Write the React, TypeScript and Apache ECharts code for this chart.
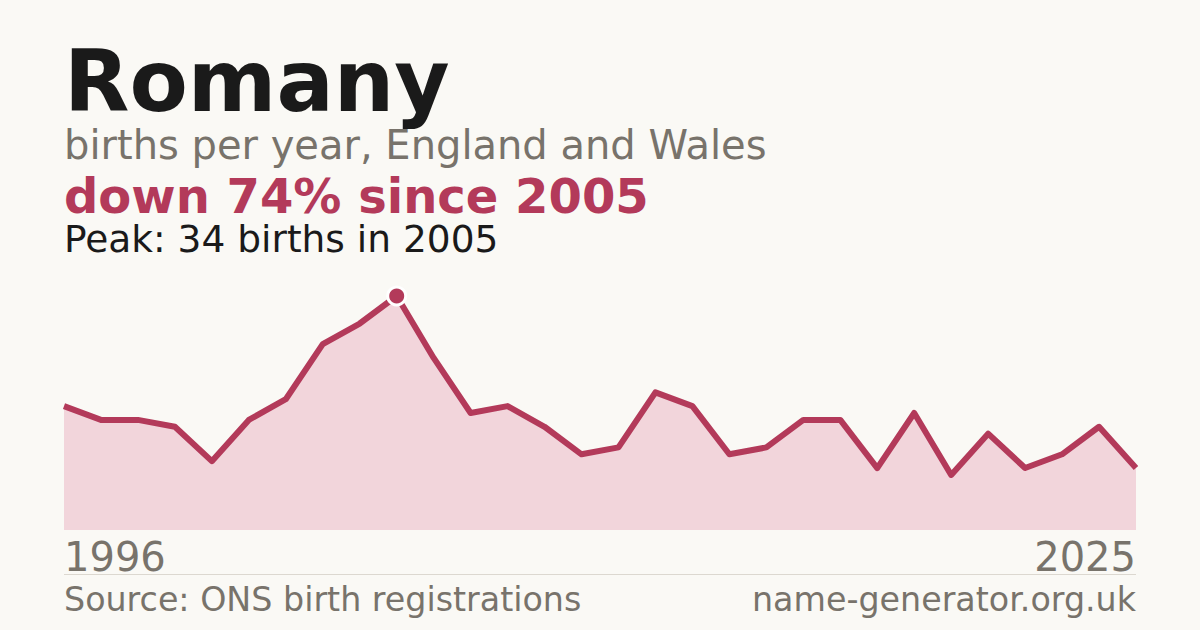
import * as echarts from "echarts";
import { useEffect, useRef } from "react";

/** 年份（类目轴）与出生数。 */
const YEARS = [
  "1996", "1997", "1998", "1999", "2000", "2001", "2002", "2003", "2004", "2005",
  "2006", "2007", "2008", "2009", "2010", "2011", "2012", "2013", "2014", "2015",
  "2016", "2017", "2018", "2019", "2020", "2021", "2022", "2023", "2024", "2025",
];
const BIRTHS = [
  18, 16, 16, 15, 10, 16, 19, 27, 30, 34,
  25, 17, 18, 15, 11, 12, 20, 18, 11, 12,
  16, 16, 9, 17, 8, 14, 9, 11, 15, 9,
];
const PEAK_YEAR = "2005";

const TITLE = "Romany";
const SUBTITLE = "births per year, England and Wales";
const HEADLINE = "down 74% since 2005";
const PEAK_TEXT = "Peak: 34 births in 2005";
const SOURCE_TEXT = "Source: ONS birth registrations";
const SITE_TEXT = "name-generator.org.uk";

const BG = "#faf9f5";
const INK = "#1a1a1a";
const MUTED = "#78736b";
const ACCENT = "#b33a5a";
const AREA = "#f2d5db";
const FONT = "DejaVu Sans";

function buildOption(): echarts.EChartsOption {
  const last = YEARS.length - 1;
  const seriesData = BIRTHS.map((v, i) =>
    YEARS[i] === PEAK_YEAR
      ? {
          value: v,
          symbol: "circle",
          symbolSize: 18,
          itemStyle: { color: ACCENT, borderColor: "#ffffff", borderWidth: 3 },
        }
      : { value: v },
  );

  // 居中对齐，行高压到字号以下，文字包围盒不至于互相压住。
  const text = (
    t: string,
    x: number,
    y: number,
    size: number,
    color: string,
    bold = false,
    align: "left" | "right" = "left",
  ) => ({
    type: "text" as const,
    x,
    y,
    silent: true,
    style: {
      text: t,
      fill: color,
      font: `${bold ? "bold " : ""}${size}px "${FONT}"`,
      lineHeight: size * 0.75,
      align,
      verticalAlign: "middle" as const,
    },
  });

  return {
    animation: false,
    backgroundColor: BG,
    grid: { left: 64, right: 64, top: 296, bottom: 100 },
    xAxis: {
      type: "category",
      data: YEARS,
      boundaryGap: false,
      axisLine: { show: false },
      axisTick: { show: false },
      splitLine: { show: false },
      axisLabel: {
        interval: (i: number) => i === 0 || i === last,
        color: MUTED,
        fontFamily: FONT,
        fontSize: 40,
        margin: 7,
        alignMinLabel: "left",
        alignMaxLabel: "right",
      },
    },
    yAxis: {
      type: "value",
      min: 0,
      max: 34,
      show: false,
    },
    series: [
      {
        type: "line",
        data: seriesData,
        symbol: "none",
        z: 3,
        lineStyle: { color: ACCENT, width: 6, join: "round" },
        areaStyle: { color: AREA, opacity: 1 },
      },
    ],
    graphic: [
      text(TITLE, 64, 81, 85, INK, true),
      text(SUBTITLE, 64, 145, 40, MUTED),
      text(HEADLINE, 64, 196, 48, ACCENT, true),
      text(PEAK_TEXT, 64, 239, 37.5, INK),
      {
        type: "line",
        silent: true,
        shape: { x1: 64, y1: 574.5, x2: 1136, y2: 574.5 },
        style: { stroke: "#dcd8d0", lineWidth: 1 },
      },
      text(SOURCE_TEXT, 64, 599, 33.3, MUTED),
      text(SITE_TEXT, 1136, 599, 33.3, MUTED, false, "right"),
    ],
  };
}

export default function App() {
  const elRef = useRef<HTMLDivElement | null>(null);

  useEffect(() => {
    const el = elRef.current;
    if (!el) {
      return undefined;
    }
    const chart = echarts.init(el, undefined, { renderer: "svg" });
    chart.setOption(buildOption());
    return () => {
      chart.dispose();
    };
  }, []);

  return (
    <div
      ref={elRef}
      style={{ position: "absolute", left: 0, top: 0, width: 1200, height: 630 }}
    />
  );
}
